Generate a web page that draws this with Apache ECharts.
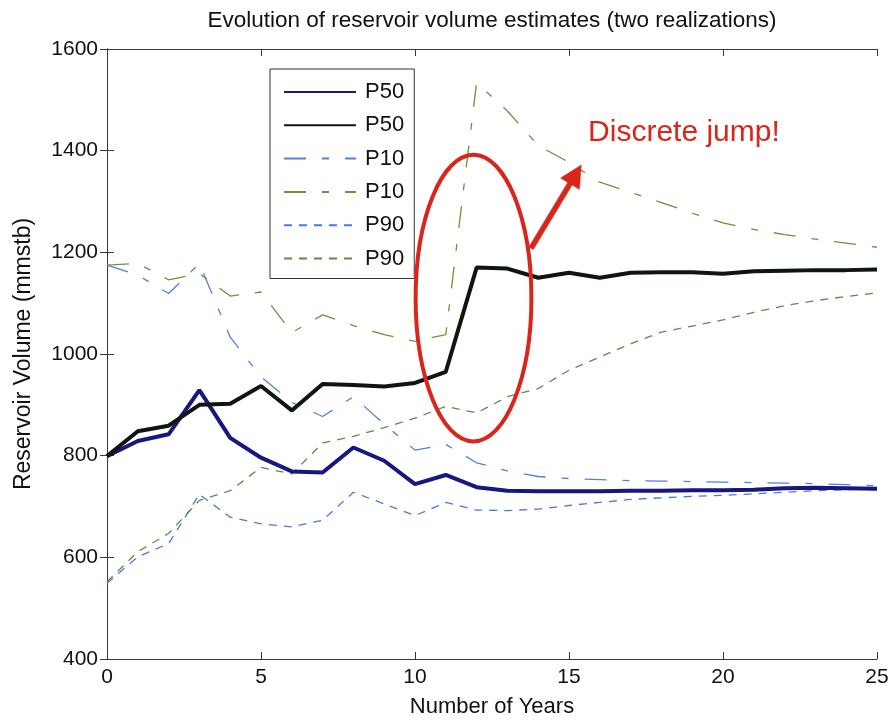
<!DOCTYPE html>
<html>
<head>
<meta charset="utf-8">
<script src="https://cdn.jsdelivr.net/npm/echarts@6/dist/echarts.min.js"></script>
<style>
  html, body { margin: 0; padding: 0; background: #fff; }
  #chart { width: 896px; height: 723px; }
</style>
</head>
<body>
<div id="chart"></div>
<script>
// Years of production history
const years = [0, 1, 2, 3, 4, 5, 6, 7, 8, 9, 10, 11, 12, 13, 14, 15, 16, 17, 18, 19, 20, 21, 22, 23, 24, 25];

// Realization 1 (blue)
const p50Blue = [799, 829, 842, 929, 835, 796, 769, 767, 816, 790, 744, 762, 738, 731, 730, 730, 730, 731, 731, 732, 732, 733, 736, 737, 736, 735];
const p10Blue = [1175, 1155, 1119, 1178, 1033, 955, 905, 877, 916, 862, 811, 822, 786, 770, 759, 755, 753, 751, 750, 749, 748, 747, 746, 745, 743, 741];
const p90Blue = [549, 601, 627, 724, 679, 666, 660, 673, 728, 705, 682, 708, 693, 692, 695, 702, 708, 714, 717, 720, 722, 725, 728, 731, 733, 735];

// Realization 2 (black / green)
const p50Black = [799, 848, 859, 900, 902, 937, 889, 941, 939, 936, 943, 965, 1170, 1168, 1150, 1160, 1150, 1160, 1161, 1161, 1158, 1163, 1164, 1165, 1165, 1166];
const p10Green = [1175, 1178, 1146, 1158, 1114, 1122, 1042, 1077, 1056, 1038, 1025, 1038, 1534, 1478, 1410, 1377, 1338, 1318, 1298, 1277, 1258, 1245, 1235, 1226, 1218, 1210];
const p90Green = [552, 611, 647, 712, 731, 777, 764, 825, 838, 855, 874, 897, 884, 916, 932, 968, 994, 1020, 1043, 1055, 1067, 1082, 1095, 1105, 1113, 1120];

// Axis ticks
const xTicks = [0, 5, 10, 15, 20, 25];
const yTicks = [400, 600, 800, 1000, 1200, 1400, 1600];

const FONT = "'Liberation Sans', Arial, Helvetica, sans-serif";
const pairs = vals => years.map((y, i) => [y, vals[i]]);

const dashDot = [22, 16, 7, 16];
const dashed = [8, 7];

function lineSeries(name, vals, color, width, type, z) {
  return {
    name: name,
    type: 'line',
    data: pairs(vals),
    symbol: 'none',
    showSymbol: false,
    smooth: false,
    z: z,
    lineStyle: { color: color, width: width, type: type },
    itemStyle: { color: color },
    emphasis: { disabled: true },
    animation: false
  };
}

const series = [
  lineSeries('P50', p50Blue, '#17177f', 4, 'solid', 6),
  lineSeries('P50 ', p50Black, '#0f150f', 4, 'solid', 6),
  lineSeries('P10', p10Blue, '#4f80e2', 1.3, dashDot, 3),
  lineSeries('P10 ', p10Green, '#7a8c38', 1.3, dashDot, 3),
  lineSeries('P90', p90Blue, '#4a78e6', 1.3, dashed, 3),
  lineSeries('P90 ', p90Green, '#66864a', 1.3, dashed, 3)
];

const axisLine = { show: true, lineStyle: { color: '#3a3a3a', width: 1 } };
const axisTick = { show: true, inside: true, length: 7, lineStyle: { color: '#3a3a3a', width: 1 } };

const chart = echarts.init(document.getElementById('chart'), null, { renderer: 'canvas' });

const option = {
  animation: false,
  backgroundColor: '#ffffff',
  title: {
    text: 'Evolution of reservoir volume estimates (two realizations)',
    left: 487,
    top: 4,
    textAlign: 'center',
    textStyle: { fontFamily: FONT, fontSize: 22.5, fontWeight: 'normal', color: '#111' }
  },
  grid: { left: 107, right: 19, top: 49, bottom: 58, containLabel: false },
  legend: {
    orient: 'vertical',
    left: 270,
    top: 69,
    data: series.map(s => s.name),
    itemWidth: 72,
    itemHeight: 22,
    itemGap: 11.3,
    padding: [12, 4, 9, 13],
    backgroundColor: '#ffffff',
    borderColor: '#333',
    borderWidth: 1,
    borderRadius: 0,
    selectedMode: false,
    itemStyle: { opacity: 0 },
    textStyle: { fontFamily: FONT, fontSize: 22, color: '#111', padding: [0, 0, 0, 4] }
  },
  xAxis: [
    {
      type: 'value', min: 0, max: 25, interval: 5,
      axisLine: axisLine, axisTick: axisTick, splitLine: { show: false },
      axisLabel: {
        fontFamily: FONT, fontSize: 21, color: '#111', margin: 8,
        formatter: v => (xTicks.indexOf(v) >= 0 ? String(v) : '')
      },
      name: 'Number of Years', nameLocation: 'middle', nameGap: 37,
      nameTextStyle: { fontFamily: FONT, fontSize: 22, color: '#111' }
    },
    {
      type: 'value', min: 0, max: 25, interval: 5, position: 'top',
      axisLine: axisLine, axisTick: axisTick, splitLine: { show: false },
      axisLabel: { show: false }
    }
  ],
  yAxis: [
    {
      type: 'value', min: 400, max: 1600, interval: 200,
      axisLine: axisLine, axisTick: axisTick, splitLine: { show: false },
      axisLabel: {
        fontFamily: FONT, fontSize: 21, color: '#111', margin: 9,
        formatter: v => (yTicks.indexOf(v) >= 0 ? String(v) : '')
      },
      name: 'Reservoir Volume (mmstb)', nameLocation: 'middle', nameGap: 72,
      nameTextStyle: { fontFamily: FONT, fontSize: 23, color: '#111' }
    },
    {
      type: 'value', min: 400, max: 1600, interval: 200, position: 'right',
      axisLine: axisLine, axisTick: axisTick, splitLine: { show: false },
      axisLabel: { show: false }
    }
  ],
  series: series
};

chart.setOption(option);

// Annotation: ellipse around the jump, arrow and caption, placed in data space
const RED = '#d9261c';
const toPx = (x, y) => chart.convertToPixel({ gridIndex: 0 }, [x, y]);

const c = toPx(11.9, 1110);
const ex = toPx(11.9 + 1.88, 1110);
const ey = toPx(11.9, 1110 + 282);
const rx = Math.abs(ex[0] - c[0]);
const ry = Math.abs(c[1] - ey[1]);

const tail = toPx(13.77, 1208);
const tip = toPx(15.4, 1372);
const dx = tip[0] - tail[0], dy = tip[1] - tail[1];
const len = Math.hypot(dx, dy);
const ux = dx / len, uy = dy / len;
const nx = -uy, ny = ux;
const headLen = 22, headHalf = 11, shaftHalf = 2.6;
const bx = tip[0] - ux * headLen, by = tip[1] - uy * headLen;
const arrowPts = [
  [tail[0] + nx * shaftHalf, tail[1] + ny * shaftHalf],
  [bx + nx * shaftHalf, by + ny * shaftHalf],
  [bx + nx * headHalf, by + ny * headHalf],
  [tip[0], tip[1]],
  [bx - nx * headHalf, by - ny * headHalf],
  [bx - nx * shaftHalf, by - ny * shaftHalf],
  [tail[0] - nx * shaftHalf, tail[1] - ny * shaftHalf]
];

const textPos = toPx(15.62, 1435);

chart.setOption({
  graphic: [
    {
      type: 'ellipse', z: 100,
      shape: { cx: c[0], cy: c[1], rx: rx, ry: ry },
      style: { fill: 'none', stroke: RED, lineWidth: 4 }
    },
    {
      type: 'polygon', z: 100,
      shape: { points: arrowPts },
      style: { fill: RED, stroke: RED, lineWidth: 0.5 }
    },
    {
      type: 'text', z: 100,
      x: textPos[0], y: textPos[1],
      style: {
        text: 'Discrete jump!', fill: RED,
        font: '30px ' + FONT,
        textAlign: 'left', textVerticalAlign: 'middle'
      }
    }
  ]
});
</script>
</body>
</html>
